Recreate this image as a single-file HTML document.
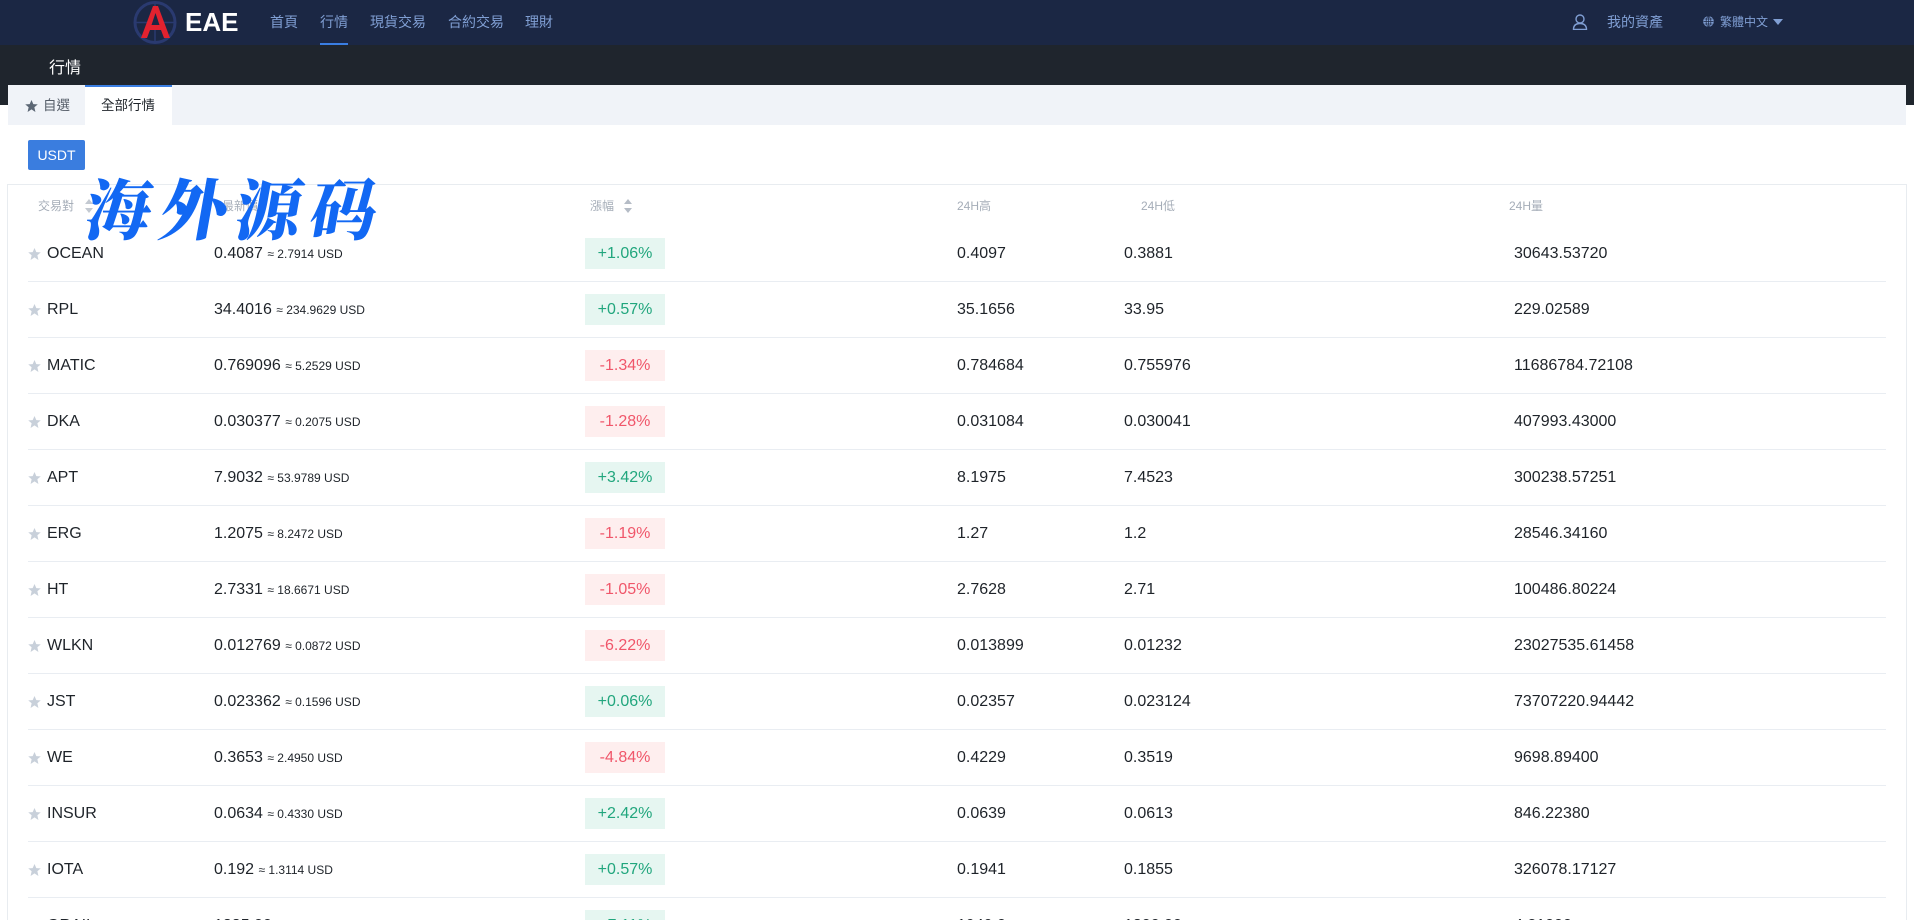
<!DOCTYPE html>
<html><head><meta charset="utf-8"><style>
*{margin:0;padding:0;box-sizing:border-box}
html{width:1914px;height:920px;overflow:hidden}
body{width:1914px;height:920px;overflow:hidden;background:#fff;font-family:"Liberation Sans","Noto Sans CJK TC",sans-serif;position:relative;color:#1e2329}
.abs{position:absolute;white-space:nowrap}
.nav{position:absolute;left:0;top:0;width:1914px;height:45px;background:#1b2744}
.nav .it{position:absolute;top:0;height:45px;line-height:45px;font-size:14px;color:#809fd4}
.band{position:absolute;left:0;top:45px;width:1914px;height:60px;background:#1f252d}
.tabs{position:absolute;left:8px;top:85px;width:1898px;height:40px;background:#f0f3f8}
.box{position:absolute;left:7px;top:184px;width:1900px;height:736px;border:1px solid #e8ecf0;border-bottom:none;background:#fff}
.hd{position:absolute;top:196px;height:20px;line-height:20px;font-size:12px;color:#a5adb8}
.row{position:absolute;left:0;width:1914px;height:56px}
.row .c{position:absolute;top:0;height:56px;line-height:56px;font-size:16px;color:#1e2329;white-space:nowrap}
.row .sm{font-size:12px}
.sep{position:absolute;left:28px;width:1858px;height:1px;background:#e9edf2}
.bd{position:absolute;left:585px;top:12px;width:80px;height:31px;line-height:31px;text-align:center;font-size:16px}
.g{background:#e6f6f1;color:#21a67d}
.r{background:#feeeee;color:#f0566a}
.star{position:absolute;left:28px;top:22px;width:13px;height:12px}
.arr{position:absolute;width:10px;height:16px}
</style></head><body>
<div class="nav">
  <svg class="abs" style="left:132px;top:0" width="46" height="45" viewBox="0 0 46 45">
    <circle cx="23" cy="22.5" r="20" fill="none" stroke="#2a3a70" stroke-width="3"/>
    <path d="M23 3 L23 42 M3 22.5 L43 22.5" stroke="#2a3a70" stroke-width="1.5"/>
    <polygon points="21,6 26,6 38,38 32,38 29,30 18,30 15,38 9,38" fill="#e2222f"/>
    <polygon points="23.5,13 27.5,25 19.5,25" fill="#1b2744"/>
  </svg>
  <div class="abs" style="left:185px;top:0;height:45px;line-height:45px;font-size:26px;font-weight:bold;color:#fff">EAE</div>
  <div class="it" style="left:270px">首頁</div>
  <div class="it" style="left:320px">行情</div>
  <div class="abs" style="left:320px;top:43px;width:28px;height:2px;background:#3a7ee2"></div>
  <div class="it" style="left:370px">現貨交易</div>
  <div class="it" style="left:448px">合約交易</div>
  <div class="it" style="left:525px">理財</div>
  <svg class="abs" style="left:1572px;top:14px" width="16" height="16" viewBox="0 0 16 16"><circle cx="8" cy="5" r="4" fill="none" stroke="#809fd4" stroke-width="1.4"/><path d="M1.5 15.5 Q1.5 9.5 8 9.5 Q14.5 9.5 14.5 15.5 Z" fill="none" stroke="#809fd4" stroke-width="1.4"/></svg>
  <div class="it" style="left:1607px">我的資產</div>
  <svg class="abs" style="left:1703px;top:16px" width="11" height="11" viewBox="0 0 11 11"><circle cx="5.5" cy="5.5" r="5.3" fill="#809fd4"/><path d="M0.5 5.5H10.5M5.5 0.5V10.5M1.5 3H9.5M1.5 8H9.5" stroke="#1b2744" stroke-width="0.7"/><ellipse cx="5.5" cy="5.5" rx="2.4" ry="5" fill="none" stroke="#1b2744" stroke-width="0.7"/></svg>
  <div class="it" style="left:1720px;font-size:12px">繁體中文</div>
  <svg class="abs" style="left:1773px;top:19px" width="10" height="7" viewBox="0 0 10 7"><polygon points="0,0 10,0 5,6" fill="#809fd4"/></svg>
</div>
<div class="band"></div>
<div class="abs" style="left:49px;top:48px;height:40px;line-height:42px;font-size:16px;color:#fff">行情</div>
<div class="tabs">
  <svg class="abs" style="left:17px;top:15px" width="13" height="12" viewBox="0 0 24 23"><polygon points="12,0 15.5,8 24,8.5 17.5,14 19.5,23 12,18 4.5,23 6.5,14 0,8.5 8.5,8" fill="#5c6775"/></svg>
  <div class="abs" style="left:35px;top:1px;height:40px;line-height:40px;font-size:13.5px;color:#555d68">自選</div>
  <div class="abs" style="left:77px;top:0;width:87px;height:40px;background:#fff;border-top:2px solid #3a7ee2"></div>
  <div class="abs" style="left:93px;top:1px;height:40px;line-height:40px;font-size:13.5px;color:#1e2329">全部行情</div>
</div>
<div class="abs" style="left:0;top:125px;width:1914px;height:60px;background:#fff"></div>
<div class="abs" style="left:28px;top:140px;width:57px;height:30px;line-height:30px;background:#3a7ddf;border-radius:2px;color:#fff;font-size:14px;text-align:center">USDT</div>
<div class="box"></div>

<div class="hd" style="left:38px">交易對</div>
<svg class="arr" style="left:84px;top:198px" viewBox="0 0 10 16"><polygon points="5,1 9,6 1,6" fill="#c3c9d1"/><polygon points="1,10 9,10 5,15" fill="#c3c9d1"/></svg>
<div class="hd" style="left:222px">最新價</div>
<div class="hd" style="left:590px">漲幅</div>
<svg class="arr" style="left:623px;top:198px" viewBox="0 0 10 16"><polygon points="5,1 9,6 1,6" fill="#b5bcc6"/><polygon points="1,10 9,10 5,15" fill="#b5bcc6"/></svg>
<div class="hd" style="left:957px">24H高</div>
<div class="hd" style="left:1141px">24H低</div>
<div class="hd" style="left:1509px">24H量</div>

<div class="abs" style="left:80px;top:167px;font-family:'Noto Serif CJK SC','Noto Sans CJK SC',serif;font-weight:900;font-size:66px;line-height:78px;letter-spacing:9px;color:#1268f3;transform:skewX(-10deg);transform-origin:left bottom">海外源码</div>

<div class="row" style="top:226px"><svg class="star" viewBox="0 0 24 23"><polygon points="12,0 15.5,8 24,8.5 17.5,14 19.5,23 12,18 4.5,23 6.5,14 0,8.5 8.5,8" fill="#c8d0da"/></svg><div class="c" style="left:47px">OCEAN</div><div class="c" style="left:214px">0.4087 <span class="sm">≈ 2.7914 USD</span></div><div class="bd g">+1.06%</div><div class="c" style="left:957px">0.4097</div><div class="c" style="left:1124px">0.3881</div><div class="c" style="left:1514px">30643.53720</div></div>
<div class="sep" style="top:281px"></div>
<div class="row" style="top:282px"><svg class="star" viewBox="0 0 24 23"><polygon points="12,0 15.5,8 24,8.5 17.5,14 19.5,23 12,18 4.5,23 6.5,14 0,8.5 8.5,8" fill="#c8d0da"/></svg><div class="c" style="left:47px">RPL</div><div class="c" style="left:214px">34.4016 <span class="sm">≈ 234.9629 USD</span></div><div class="bd g">+0.57%</div><div class="c" style="left:957px">35.1656</div><div class="c" style="left:1124px">33.95</div><div class="c" style="left:1514px">229.02589</div></div>
<div class="sep" style="top:337px"></div>
<div class="row" style="top:338px"><svg class="star" viewBox="0 0 24 23"><polygon points="12,0 15.5,8 24,8.5 17.5,14 19.5,23 12,18 4.5,23 6.5,14 0,8.5 8.5,8" fill="#c8d0da"/></svg><div class="c" style="left:47px">MATIC</div><div class="c" style="left:214px">0.769096 <span class="sm">≈ 5.2529 USD</span></div><div class="bd r">-1.34%</div><div class="c" style="left:957px">0.784684</div><div class="c" style="left:1124px">0.755976</div><div class="c" style="left:1514px">11686784.72108</div></div>
<div class="sep" style="top:393px"></div>
<div class="row" style="top:394px"><svg class="star" viewBox="0 0 24 23"><polygon points="12,0 15.5,8 24,8.5 17.5,14 19.5,23 12,18 4.5,23 6.5,14 0,8.5 8.5,8" fill="#c8d0da"/></svg><div class="c" style="left:47px">DKA</div><div class="c" style="left:214px">0.030377 <span class="sm">≈ 0.2075 USD</span></div><div class="bd r">-1.28%</div><div class="c" style="left:957px">0.031084</div><div class="c" style="left:1124px">0.030041</div><div class="c" style="left:1514px">407993.43000</div></div>
<div class="sep" style="top:449px"></div>
<div class="row" style="top:450px"><svg class="star" viewBox="0 0 24 23"><polygon points="12,0 15.5,8 24,8.5 17.5,14 19.5,23 12,18 4.5,23 6.5,14 0,8.5 8.5,8" fill="#c8d0da"/></svg><div class="c" style="left:47px">APT</div><div class="c" style="left:214px">7.9032 <span class="sm">≈ 53.9789 USD</span></div><div class="bd g">+3.42%</div><div class="c" style="left:957px">8.1975</div><div class="c" style="left:1124px">7.4523</div><div class="c" style="left:1514px">300238.57251</div></div>
<div class="sep" style="top:505px"></div>
<div class="row" style="top:506px"><svg class="star" viewBox="0 0 24 23"><polygon points="12,0 15.5,8 24,8.5 17.5,14 19.5,23 12,18 4.5,23 6.5,14 0,8.5 8.5,8" fill="#c8d0da"/></svg><div class="c" style="left:47px">ERG</div><div class="c" style="left:214px">1.2075 <span class="sm">≈ 8.2472 USD</span></div><div class="bd r">-1.19%</div><div class="c" style="left:957px">1.27</div><div class="c" style="left:1124px">1.2</div><div class="c" style="left:1514px">28546.34160</div></div>
<div class="sep" style="top:561px"></div>
<div class="row" style="top:562px"><svg class="star" viewBox="0 0 24 23"><polygon points="12,0 15.5,8 24,8.5 17.5,14 19.5,23 12,18 4.5,23 6.5,14 0,8.5 8.5,8" fill="#c8d0da"/></svg><div class="c" style="left:47px">HT</div><div class="c" style="left:214px">2.7331 <span class="sm">≈ 18.6671 USD</span></div><div class="bd r">-1.05%</div><div class="c" style="left:957px">2.7628</div><div class="c" style="left:1124px">2.71</div><div class="c" style="left:1514px">100486.80224</div></div>
<div class="sep" style="top:617px"></div>
<div class="row" style="top:618px"><svg class="star" viewBox="0 0 24 23"><polygon points="12,0 15.5,8 24,8.5 17.5,14 19.5,23 12,18 4.5,23 6.5,14 0,8.5 8.5,8" fill="#c8d0da"/></svg><div class="c" style="left:47px">WLKN</div><div class="c" style="left:214px">0.012769 <span class="sm">≈ 0.0872 USD</span></div><div class="bd r">-6.22%</div><div class="c" style="left:957px">0.013899</div><div class="c" style="left:1124px">0.01232</div><div class="c" style="left:1514px">23027535.61458</div></div>
<div class="sep" style="top:673px"></div>
<div class="row" style="top:674px"><svg class="star" viewBox="0 0 24 23"><polygon points="12,0 15.5,8 24,8.5 17.5,14 19.5,23 12,18 4.5,23 6.5,14 0,8.5 8.5,8" fill="#c8d0da"/></svg><div class="c" style="left:47px">JST</div><div class="c" style="left:214px">0.023362 <span class="sm">≈ 0.1596 USD</span></div><div class="bd g">+0.06%</div><div class="c" style="left:957px">0.02357</div><div class="c" style="left:1124px">0.023124</div><div class="c" style="left:1514px">73707220.94442</div></div>
<div class="sep" style="top:729px"></div>
<div class="row" style="top:730px"><svg class="star" viewBox="0 0 24 23"><polygon points="12,0 15.5,8 24,8.5 17.5,14 19.5,23 12,18 4.5,23 6.5,14 0,8.5 8.5,8" fill="#c8d0da"/></svg><div class="c" style="left:47px">WE</div><div class="c" style="left:214px">0.3653 <span class="sm">≈ 2.4950 USD</span></div><div class="bd r">-4.84%</div><div class="c" style="left:957px">0.4229</div><div class="c" style="left:1124px">0.3519</div><div class="c" style="left:1514px">9698.89400</div></div>
<div class="sep" style="top:785px"></div>
<div class="row" style="top:786px"><svg class="star" viewBox="0 0 24 23"><polygon points="12,0 15.5,8 24,8.5 17.5,14 19.5,23 12,18 4.5,23 6.5,14 0,8.5 8.5,8" fill="#c8d0da"/></svg><div class="c" style="left:47px">INSUR</div><div class="c" style="left:214px">0.0634 <span class="sm">≈ 0.4330 USD</span></div><div class="bd g">+2.42%</div><div class="c" style="left:957px">0.0639</div><div class="c" style="left:1124px">0.0613</div><div class="c" style="left:1514px">846.22380</div></div>
<div class="sep" style="top:841px"></div>
<div class="row" style="top:842px"><svg class="star" viewBox="0 0 24 23"><polygon points="12,0 15.5,8 24,8.5 17.5,14 19.5,23 12,18 4.5,23 6.5,14 0,8.5 8.5,8" fill="#c8d0da"/></svg><div class="c" style="left:47px">IOTA</div><div class="c" style="left:214px">0.192 <span class="sm">≈ 1.3114 USD</span></div><div class="bd g">+0.57%</div><div class="c" style="left:957px">0.1941</div><div class="c" style="left:1124px">0.1855</div><div class="c" style="left:1514px">326078.17127</div></div>
<div class="sep" style="top:897px"></div>
<div class="row" style="top:898px;height:22px;overflow:hidden"><svg class="star" viewBox="0 0 24 23"><polygon points="12,0 15.5,8 24,8.5 17.5,14 19.5,23 12,18 4.5,23 6.5,14 0,8.5 8.5,8" fill="#c8d0da"/></svg><div class="c" style="left:47px">GRAIL</div><div class="c" style="left:214px">1885.00 <span class="sm">≈ 12874.55 USD</span></div><div class="bd g">+7.11%</div><div class="c" style="left:957px">1949.0</div><div class="c" style="left:1124px">1800.00</div><div class="c" style="left:1514px">4.21000</div></div>
</body></html>
